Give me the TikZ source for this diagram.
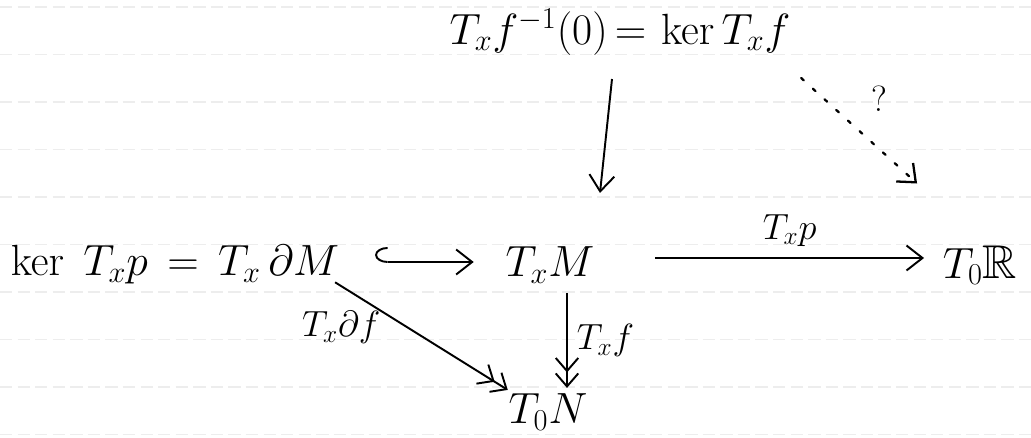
\documentclass[tikz,border=0pt]{standalone}
\usepackage{amssymb}
\usetikzlibrary{arrows.meta,calc,positioning}

\tikzset{
  obj/.style={inner sep=2pt, font=\fontsize{27}{32}\selectfont},
  lbl/.style={inner sep=1pt, font=\fontsize{22}{26}\selectfont},
  map/.style={line width=1.1pt, -{Straight Barb[length=3.2mm,width=5mm]}},
  onto/.style={line width=1.1pt, -{Straight Barb[length=2.6mm,width=4.5mm] Straight Barb[length=2.6mm,width=4.5mm]}},
  incl/.style={line width=1.1pt, {Hooks[right,length=2.5mm,width=6mm]}-{Straight Barb[length=3.2mm,width=5mm]}},
  maybe/.style={line width=1.3pt, line cap=round, dash pattern=on 2pt off 7pt, -{Straight Barb[length=3mm,width=5mm]}},
  ruled/.style={black!7, line width=0.6pt, dash pattern=on 7pt off 3pt}
}

\begin{document}
\begin{tikzpicture}[x=0.02cm, y=-0.02cm]

  % Blatt mit Linien
  \fill[white] (0,0) rectangle (1031,438);
  \useasboundingbox (0,0) rectangle (1031,438);
  \foreach \y in {7,54.5,...,440}
    \draw[ruled] (0,\y) -- (1031,\y);

  % Objekte
  \node[obj] (kerf)  at (620,32)  {$T_x f^{-1}(0)\,{=}\,\ker T_x f$};
  \node[obj] (bdry)  at (175,265) {$\ker\; T_x p \,=\, T_x\,\partial M$};
  \node[obj] (tm)    at (550,265) {$T_x M$};
  \node[obj] (tr)    at (980,265) {$T_0\mathbb{R}$};
  \node[obj] (tn)    at (548,412) {$T_0 N$};

  % Pfeile
  \draw[map]   ($(kerf.south)+(-8,20)$) -- ($(tm.north)+(50,-50)$);
  \draw[incl]  ($(bdry.east)+(32,-3)$) -- ($(tm.west)+(-28,-3)$);
  \draw[map]   ($(tm.east)+(57,-7)$) -- node[lbl, above=5pt] {$T_x p$} ($(tr.west)+(-15,-7)$);
  \draw[maybe] ($(kerf.south east)+(7,19)$) -- node[lbl, right=25pt, pos=0.2] {$?$} ($(tr.north west)+(-22,-58)$);
  \draw[onto]  ($(tm.south)+(17,6)$) -- node[lbl, right=4pt] {$T_x f$} ($(tn.north)+(19,-2)$);
  \draw[onto]  ($(bdry.south east)+(-8,-6)$) -- node[lbl, left=14pt, pos=0.42] {$T_x\partial f$} ($(tn.north west)+(3,0)$);

\end{tikzpicture}
\end{document}
